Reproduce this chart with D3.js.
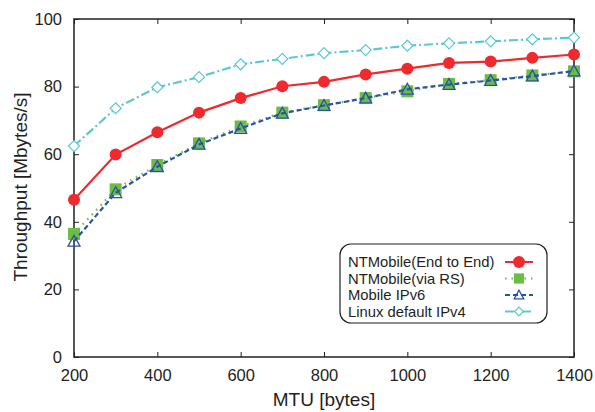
<!DOCTYPE html>
<html>
<head>
<meta charset="utf-8">
<script src="https://cdn.jsdelivr.net/npm/d3@7"></script>
<style>
  body { margin: 0; background: #fff; }
  svg { display: block; font-family: "Liberation Sans", Arial, sans-serif; }
</style>
</head>
<body>
<svg id="chart" width="595" height="412"></svg>
<script>
// MTU values (x) and throughput per series (Mbytes/s)
const mtu = [200, 300, 400, 500, 600, 700, 800, 900, 1000, 1100, 1200, 1300, 1400];
const endToEnd = [46.5, 59.9, 66.5, 72.3, 76.6, 80.1, 81.4, 83.6, 85.3, 87.0, 87.4, 88.5, 89.5];
const viaRS = [36.4, 49.6, 56.8, 63.2, 68.2, 72.3, 74.5, 76.6, 78.6, 80.8, 81.9, 83.3, 84.5];
const mobileIPv6 = [34.2, 48.6, 56.3, 62.9, 67.6, 72.1, 74.4, 76.6, 79.2, 80.6, 81.8, 83.1, 84.6];
const linuxIPv4 = [62.4, 73.6, 79.8, 82.8, 86.6, 88.2, 89.9, 90.8, 92.1, 92.8, 93.4, 94.0, 94.5];
const xTicks = [200, 400, 600, 800, 1000, 1200, 1400];
const yTicks = [0, 20, 40, 60, 80, 100];

const series = [
  { name: "NTMobile(End to End)", values: endToEnd, color: "#ee2a2f", dash: null, width: 2.2, marker: "circle" },
  { name: "NTMobile(via RS)", values: viaRS, color: "#6cbd45", dash: "1.5,5", width: 2.2, marker: "square" },
  { name: "Mobile IPv6", values: mobileIPv6, color: "#2a52a6", dash: "5,3", width: 2.2, marker: "triangle" },
  { name: "Linux default IPv4", values: linuxIPv4, color: "#5cc8d3", dash: "9,3,2,3", width: 2.2, marker: "diamond" }
];

const svg = d3.select("#chart");
const margin = { top: 19, right: 21, bottom: 55, left: 74 };
const width = 595 - margin.left - margin.right;
const height = 412 - margin.top - margin.bottom;
const g = svg.append("g").attr("transform", `translate(${margin.left},${margin.top})`);

const x = d3.scaleLinear().domain([200, 1400]).range([0, width]);
const y = d3.scaleLinear().domain([0, 100]).range([height, 0]);

// axes: inward ticks, mirrored on top and right
const axisStyle = sel => {
  sel.select(".domain").remove();
  sel.selectAll("line").attr("stroke", "#231f20").attr("stroke-width", 1);
  sel.selectAll("text").attr("fill", "#231f20").attr("font-size", 16.5);
};
g.append("g").attr("transform", `translate(0,${height})`)
  .call(d3.axisBottom(x).tickValues(xTicks).tickSize(-5).tickPadding(12).tickFormat(d3.format("d")))
  .call(axisStyle);
g.append("g").call(d3.axisTop(x).tickValues(xTicks).tickSize(-5).tickFormat(""))
  .call(axisStyle);
g.append("g")
  .call(d3.axisLeft(y).tickValues(yTicks).tickSize(-5).tickPadding(12))
  .call(axisStyle);
g.append("g").attr("transform", `translate(${width},0)`)
  .call(d3.axisRight(y).tickValues(yTicks).tickSize(-5).tickFormat(""))
  .call(axisStyle);

g.append("rect").attr("width", width).attr("height", height)
  .attr("fill", "none").attr("stroke", "#231f20").attr("stroke-width", 1.5);

// axis labels
svg.append("text").attr("x", margin.left + width / 2).attr("y", 406)
  .attr("text-anchor", "middle").attr("font-size", 19).attr("fill", "#231f20")
  .text("MTU [bytes]");
svg.append("text").attr("transform", `translate(27,${margin.top + height / 2 - 1}) rotate(-90)`)
  .attr("text-anchor", "middle").attr("font-size", 19).attr("fill", "#231f20")
  .text("Throughput [Mbytes/s]");

function drawMarker(sel, s, cx, cy, scale) {
  const k = scale || 1;
  if (s.marker === "circle") {
    sel.append("circle").attr("cx", cx).attr("cy", cy).attr("r", 6 * k).attr("fill", s.color);
  } else if (s.marker === "square") {
    sel.append("rect").attr("x", cx - 6 * k).attr("y", cy - 6 * k)
      .attr("width", 12 * k).attr("height", 12 * k).attr("fill", s.color);
  } else if (s.marker === "triangle") {
    const r = 6 * k;
    sel.append("path")
      .attr("d", `M${cx},${cy - r}L${cx + r},${cy + r * 0.8}L${cx - r},${cy + r * 0.8}Z`)
      .attr("fill", "none").attr("stroke", s.color).attr("stroke-width", 1.3);
  } else if (s.marker === "diamond") {
    const r = 5.5 * k;
    sel.append("path")
      .attr("d", `M${cx},${cy - r}L${cx + r},${cy}L${cx},${cy + r}L${cx - r},${cy}Z`)
      .attr("fill", "#fff").attr("stroke", s.color).attr("stroke-width", 1.2);
  }
}

const line = d3.line().x(d => x(d[0])).y(d => y(d[1]));

// draw order: cyan, red, green, blue on top
const order = [3, 0, 1, 2];
order.forEach(i => {
  const s = series[i];
  const pts = mtu.map((m, j) => [m, s.values[j]]);
  const sg = g.append("g");
  sg.append("path").datum(pts).attr("d", line)
    .attr("fill", "none").attr("stroke", s.color).attr("stroke-width", s.width)
    .attr("stroke-dasharray", s.dash);
  pts.forEach(p => drawMarker(sg, s, x(p[0]), y(p[1])));
});

// legend
const lg = svg.append("g").attr("transform", "translate(340,244)");
lg.append("rect").attr("width", 207).attr("height", 79).attr("rx", 11)
  .attr("fill", "#fff").attr("stroke", "#231f20").attr("stroke-width", 1.2);
series.forEach((s, i) => {
  const ly = 18 + i * 16.5;
  lg.append("text").attr("x", 8).attr("y", ly + 5.3).attr("font-size", 14.8)
    .attr("fill", "#231f20").text(s.name);
  lg.append("line").attr("x1", 165).attr("x2", 193).attr("y1", ly).attr("y2", ly)
    .attr("stroke", s.color).attr("stroke-width", 2).attr("stroke-dasharray", s.dash);
  drawMarker(lg, s, 179, ly, s.marker === "square" ? 0.85 : (s.marker === "circle" ? 1 : 0.8));
});
</script>
</body>
</html>
